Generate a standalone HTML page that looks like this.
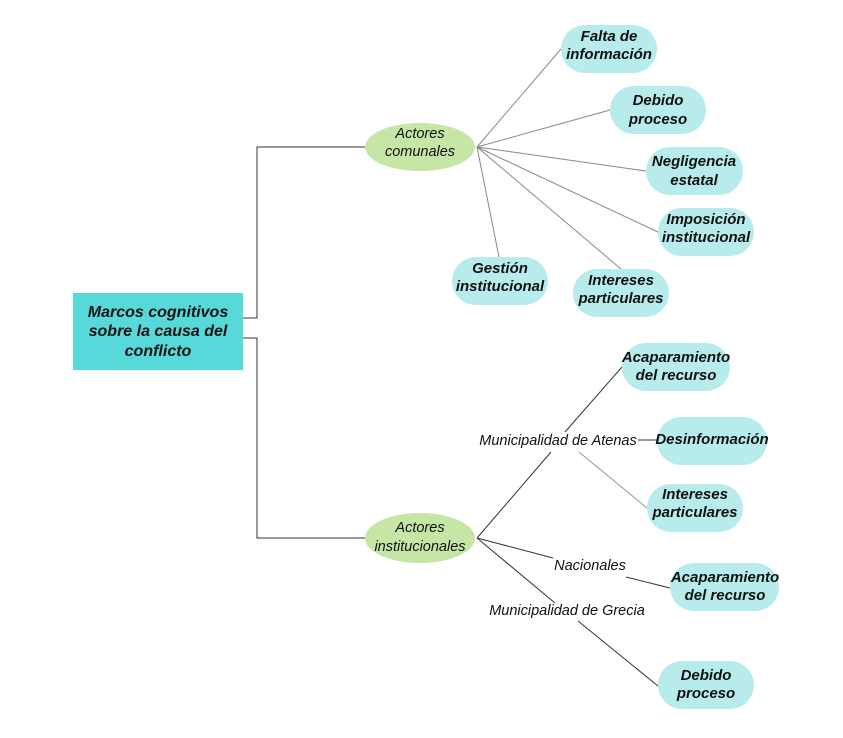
<!DOCTYPE html>
<html><head><meta charset="utf-8"><style>
html,body{margin:0;padding:0;background:#fff;}
svg{display:block;}
text{font-family:"Liberation Sans",sans-serif;}
.b{font-weight:bold;font-style:italic;font-size:15px;fill:#111;text-anchor:middle;}
.i{font-style:italic;font-size:14.5px;fill:#111;text-anchor:middle;}
.n{fill:#b8ecec;}
</style></head><body>
<svg width="843" height="738" viewBox="0 0 843 738">
<g stroke="#333" stroke-width="1" fill="none">
<polyline points="243,318 257,318 257,147 366,147"/>
<polyline points="243,338 257,338 257,538 366,538"/>
</g>
<g stroke="#888" stroke-width="1">
<line x1="477" y1="147" x2="561" y2="49"/>
<line x1="477" y1="147" x2="610" y2="110"/>
<line x1="477" y1="147" x2="646" y2="171"/>
<line x1="477" y1="147" x2="658" y2="232"/>
<line x1="477" y1="147" x2="499" y2="257"/>
<line x1="477" y1="147" x2="621" y2="269"/>
</g>
<g stroke="#333" stroke-width="1">
<line x1="477" y1="538" x2="551" y2="452"/>
<line x1="565" y1="432" x2="622" y2="367"/>
<line x1="638" y1="440" x2="657" y2="440"/>
<line x1="579" y1="452" x2="647" y2="508" stroke="#999"/>
<line x1="477" y1="538" x2="553" y2="558"/>
<line x1="626" y1="577" x2="670" y2="588"/>
<line x1="477" y1="538" x2="555" y2="603"/>
<line x1="578" y1="621" x2="658" y2="686"/>
</g>
<rect x="73" y="293" width="170" height="77" fill="#57d8d9"/>
<text class="b" style="font-size:16px" x="158" y="317">Marcos cognitivos</text>
<text class="b" style="font-size:16px" x="158" y="336">sobre la causa del</text>
<text class="b" style="font-size:16px" x="158" y="356">conflicto</text>
<ellipse cx="420" cy="147" rx="55" ry="24" fill="#c6e6a6"/>
<text class="i" x="420" y="138">Actores</text><text class="i" x="420" y="156">comunales</text>
<ellipse cx="420" cy="538" rx="55" ry="25" fill="#c6e6a6"/>
<text class="i" x="420" y="532">Actores</text><text class="i" x="420" y="551">institucionales</text>
<rect class="n" x="561" y="25" width="96" height="48" rx="24"/>
<text class="b" x="609" y="41">Falta de</text><text class="b" x="609" y="59">información</text>
<rect class="n" x="610" y="86" width="96" height="48" rx="24"/>
<text class="b" x="658" y="105">Debido</text><text class="b" x="658" y="124">proceso</text>
<rect class="n" x="646" y="147" width="97" height="48" rx="24"/>
<text class="b" x="694" y="166">Negligencia</text><text class="b" x="694" y="185">estatal</text>
<rect class="n" x="658" y="208" width="96" height="48" rx="24"/>
<text class="b" x="706" y="224">Imposición</text><text class="b" x="706" y="242">institucional</text>
<rect class="n" x="452" y="257" width="96" height="48" rx="24"/>
<text class="b" x="500" y="273">Gestión</text><text class="b" x="500" y="291">institucional</text>
<rect class="n" x="573" y="269" width="96" height="48" rx="24"/>
<text class="b" x="621" y="285">Intereses</text><text class="b" x="621" y="303">particulares</text>
<rect class="n" x="622" y="343" width="108" height="48" rx="24"/>
<text class="b" x="676" y="362">Acaparamiento</text><text class="b" x="676" y="380">del recurso</text>
<rect class="n" x="657" y="417" width="110" height="48" rx="24"/>
<text class="b" x="712" y="444">Desinformación</text>
<rect class="n" x="647" y="484" width="96" height="48" rx="24"/>
<text class="b" x="695" y="499">Intereses</text><text class="b" x="695" y="517">particulares</text>
<rect class="n" x="670" y="563" width="109" height="48" rx="24"/>
<text class="b" x="725" y="582">Acaparamiento</text><text class="b" x="725" y="600">del recurso</text>
<rect class="n" x="658" y="661" width="96" height="48" rx="24"/>
<text class="b" x="706" y="680">Debido</text><text class="b" x="706" y="698">proceso</text>
<text class="i" x="558" y="445">Municipalidad de Atenas</text>
<text class="i" x="590" y="570">Nacionales</text>
<text class="i" x="567" y="615">Municipalidad de Grecia</text>
</svg>
</body></html>
